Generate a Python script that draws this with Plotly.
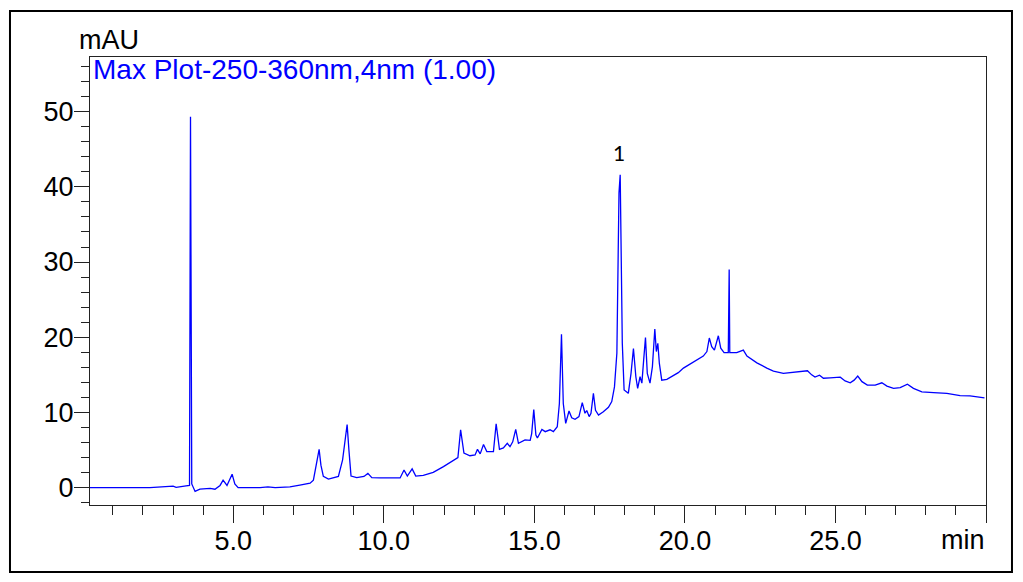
import plotly.graph_objects as go

# Retention time (min) and absorbance (mAU)
time_min = [0.24, 2.23, 3.0, 3.1, 3.43, 3.545, 3.578, 3.62, 3.73, 3.89, 4.23, 4.39, 4.56, 4.66, 4.79,
            4.96, 5.05, 5.16, 5.89, 6.15, 6.39, 6.88, 7.21, 7.55, 7.66, 7.76, 7.85, 7.91, 7.99, 8.16,
            8.49, 8.63, 8.71, 8.78, 8.84, 8.91, 9.1, 9.34, 9.47, 9.6, 9.87, 10.54, 10.67, 10.78, 10.94,
            11.06, 11.31, 11.64, 11.98, 12.31, 12.46, 12.55, 12.66, 12.86, 13.03, 13.11, 13.2, 13.31,
            13.42, 13.64, 13.73, 13.84, 13.97, 14.1, 14.19, 14.28, 14.38, 14.47, 14.58, 14.69, 14.86,
            14.91, 14.98, 15.05, 15.1, 15.25, 15.36, 15.52, 15.63, 15.76, 15.83, 15.9, 15.96, 16.04,
            16.15, 16.24, 16.35, 16.48, 16.59, 16.68, 16.74, 16.82, 16.88, 16.96, 17.03, 17.13, 17.29,
            17.46, 17.57, 17.66, 17.74, 17.81, 17.85, 17.89, 17.92, 17.98, 18.12, 18.21, 18.29, 18.37,
            18.43, 18.51, 18.57, 18.63, 18.69, 18.75, 18.84, 18.92, 19.0, 19.05, 19.1, 19.15, 19.23,
            19.4, 19.56, 19.78, 19.95, 20.17, 20.4, 20.61, 20.73, 20.81, 20.89, 20.98, 21.11, 21.19,
            21.3, 21.44, 21.47, 21.49, 21.72, 21.83, 21.94, 22.06, 22.22, 22.39, 22.72, 22.94, 23.27,
            23.72, 23.89, 24.07, 24.21, 24.32, 24.47, 24.6, 24.82, 25.16, 25.32, 25.49, 25.62, 25.74,
            25.88, 26.06, 26.32, 26.54, 26.71, 26.93, 27.15, 27.39, 27.59, 27.87, 28.26, 28.7, 29.14,
            29.47, 29.95]
absorbance_mau = [0.0, 0.0, 0.2, 0.05, 0.25, 0.3, 49.3, 0.5, -0.5, -0.2, -0.1, -0.2, 0.3, 1.0, 0.3,
                  1.8, 0.5, 0.0, 0.0, 0.1, 0.0, 0.1, 0.35, 0.6, 1.0, 3.0, 5.1, 3.0, 1.5, 1.15,
                  1.5, 3.7, 6.5, 8.4, 5.0, 1.55, 1.33, 1.5, 1.9, 1.33, 1.3, 1.3, 2.35, 1.55, 2.5,
                  1.55, 1.65, 2.05, 2.8, 3.55, 4.0, 7.7, 4.6, 4.25, 4.35, 5.1, 4.5, 5.75,
                  4.8, 4.8, 8.5, 5.1, 5.3, 5.9, 5.45, 6.1, 7.75, 5.9, 6.1, 6.35, 6.3,
                  7.2, 10.4, 7.0, 6.6, 7.75, 7.45, 7.7, 7.45, 8.1, 11.2, 20.4, 11.2, 8.55,
                  10.2, 9.3, 9.1, 9.45, 11.3, 9.9, 10.25, 9.45, 9.9, 12.55, 10.3, 9.65, 10.1,
                  10.7, 11.45, 13.4, 17.9, 39.2, 41.6, 30.3, 19.2, 13.0, 12.55, 15.2, 18.5, 14.75,
                  13.2, 14.75, 13.9, 17.0, 19.95, 15.2, 13.9, 16.1, 21.1, 18.1, 19.2, 16.55, 14.3,
                  14.4, 14.75, 15.3, 15.9, 16.4, 17.0, 17.5, 18.1, 19.9, 18.75, 18.3, 20.2, 18.55,
                  17.95, 17.95, 29.0, 17.95, 17.95, 18.1, 18.3, 17.5, 17.1, 16.6, 15.9, 15.5, 15.2,
                  15.35, 15.4, 15.55, 15.0, 14.7, 14.95, 14.55, 14.6, 14.7, 14.2, 13.95, 14.3, 14.85,
                  14.1, 13.65, 13.65, 13.95, 13.5, 13.2, 13.3, 13.75, 13.2, 12.75, 12.65, 12.55, 12.25,
                  12.2, 11.95]

x_tick_vals = [5, 10, 15, 20, 25, 30]
x_tick_text = ["5.0", "10.0", "15.0", "20.0", "25.0", ""]
y_tick_vals = [0, 10, 20, 30, 40, 50]
y_tick_text = ["0", "10", "20", "30", "40", "50"]

peak_label = "1"
peak_time = 17.81
peak_label_mau = 44.6

FONT = "Liberation Sans, Arial, sans-serif"

fig = go.Figure()
fig.add_trace(go.Scatter(x=time_min, y=absorbance_mau, mode="lines",
                         line=dict(color="#0000FF", width=1.3), showlegend=False,
                         hoverinfo="x+y"))

fig.update_layout(
    width=1015, height=574,
    margin=dict(l=82, r=37, t=49, b=77),
    paper_bgcolor="white", plot_bgcolor="white",
    font=dict(family=FONT, size=27, color="black"),
    xaxis=dict(range=[0.24, 30.0], tickvals=x_tick_vals, ticktext=x_tick_text,
               ticks="outside", ticklen=17, tickcolor="#222", tickwidth=1,
               showline=True, linecolor="#222", linewidth=1, mirror=True,
               showgrid=False, zeroline=False, ticklabelstandoff=-5,
               minor=dict(dtick=1, tick0=0, ticks="outside", ticklen=9, tickcolor="#222", showgrid=False),
               tickfont=dict(family=FONT, size=27, color="black")),
    yaxis=dict(range=[-2.3, 57.26], tickvals=y_tick_vals, ticktext=y_tick_text,
               ticks="outside", ticklen=15, tickcolor="#222", tickwidth=1,
               showline=True, linecolor="#222", linewidth=1, mirror=True,
               showgrid=False, zeroline=False, ticklabelstandoff=-5,
               minor=dict(dtick=2, tick0=0, ticks="outside", ticklen=8, tickcolor="#222", showgrid=False),
               tickfont=dict(family=FONT, size=27, color="black")),
    shapes=[dict(type="rect", xref="paper", yref="paper",
                 x0=-0.0893, x1=1.029, y0=-0.1496, y1=1.1027,
                 line=dict(color="black", width=2), fillcolor="rgba(0,0,0,0)", layer="above")],
    annotations=[
        dict(text="mAU", xref="paper", yref="paper", x=-0.0145, y=1.038,
             xanchor="left", yanchor="middle", showarrow=False,
             font=dict(family=FONT, size=27, color="black")),
        dict(text="Max Plot-250-360nm,4nm (1.00)", xref="paper", yref="paper", x=0.001, y=1.011,
             xanchor="left", yanchor="top", showarrow=False,
             font=dict(family=FONT, size=28, color="#0000FF")),
        dict(text="min", xref="paper", yref="paper", x=1.001, y=-0.078,
             xanchor="right", yanchor="middle", showarrow=False,
             font=dict(family=FONT, size=27, color="black")),
        dict(text=peak_label, x=peak_time, y=peak_label_mau, xref="x", yref="y",
             xanchor="center", yanchor="middle", showarrow=False,
             font=dict(family="Lato, Carlito, sans-serif", size=21, color="black")),
    ],
)

fig.write_html("out.html")
